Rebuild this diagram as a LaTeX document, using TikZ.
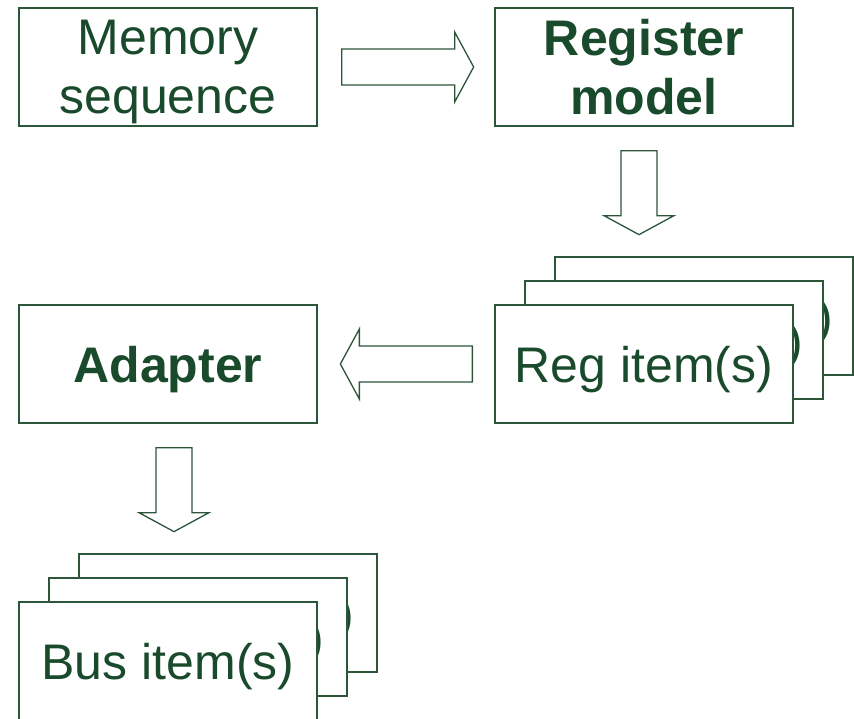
\documentclass[tikz,border=0pt]{standalone}
\usepackage{fontspec}
\setmainfont{Liberation Sans}
\usetikzlibrary{calc}

\definecolor{flowgreen}{RGB}{26,74,44}
\definecolor{edgegreen}{RGB}{45,85,58}

\tikzset{
  flowbox/.style={draw=edgegreen, line width=1.3pt, fill=white,
    minimum width=298pt, minimum height=118pt, inner sep=0pt,
    text=flowgreen, align=center, text depth=0pt,
    font=\fontsize{50}{59}\selectfont},
  boldbox/.style={flowbox, font=\bfseries\fontsize{50}{59}\selectfont},
  pics/blockarrow/.style={code={
    \draw[edgegreen, line width=1.3pt, fill=white]
      (0,-18) -- ({#1-19},-18) -- ({#1-19},-35) -- (#1,0)
      -- ({#1-19},35) -- ({#1-19},18) -- (0,18) -- cycle;
  }}
}

\begin{document}
\begin{tikzpicture}[x=1pt,y=-1pt]
  \useasboundingbox (0,0) rectangle (854,718);

  % top row
  \node[flowbox] (memseq) at (168,67) {Memory\\sequence};
  \node[boldbox] (regmodel) at (644,67) {Register\\model};

  % stack of register items
  \node[flowbox] (regitem3) at (704,316) {Reg item(s)};
  \node[flowbox] (regitem2) at (674,340) {Reg item(s)};
  \node[flowbox] (regitem) at (644,364) {Reg item(s)};

  \node[boldbox] (adapter) at (168,364) {Adapter};

  % stack of bus items
  \node[flowbox] (busitem3) at (228,613) {Bus item(s)};
  \node[flowbox] (busitem2) at (198,637) {Bus item(s)};
  \node[flowbox] (busitem) at (168,661) {Bus item(s)};

  % block arrows
  \pic at ($(memseq.east)+(24,0)$) {blockarrow=132};
  \pic[rotate=-90] at ($(regmodel.south)+(-5,24)$) {blockarrow=84};
  \pic[rotate=180] at ($(regitem.west)+(-22,0)$) {blockarrow=132};
  \pic[rotate=-90] at ($(adapter.south)+(6,24)$) {blockarrow=84};
\end{tikzpicture}
\end{document}
